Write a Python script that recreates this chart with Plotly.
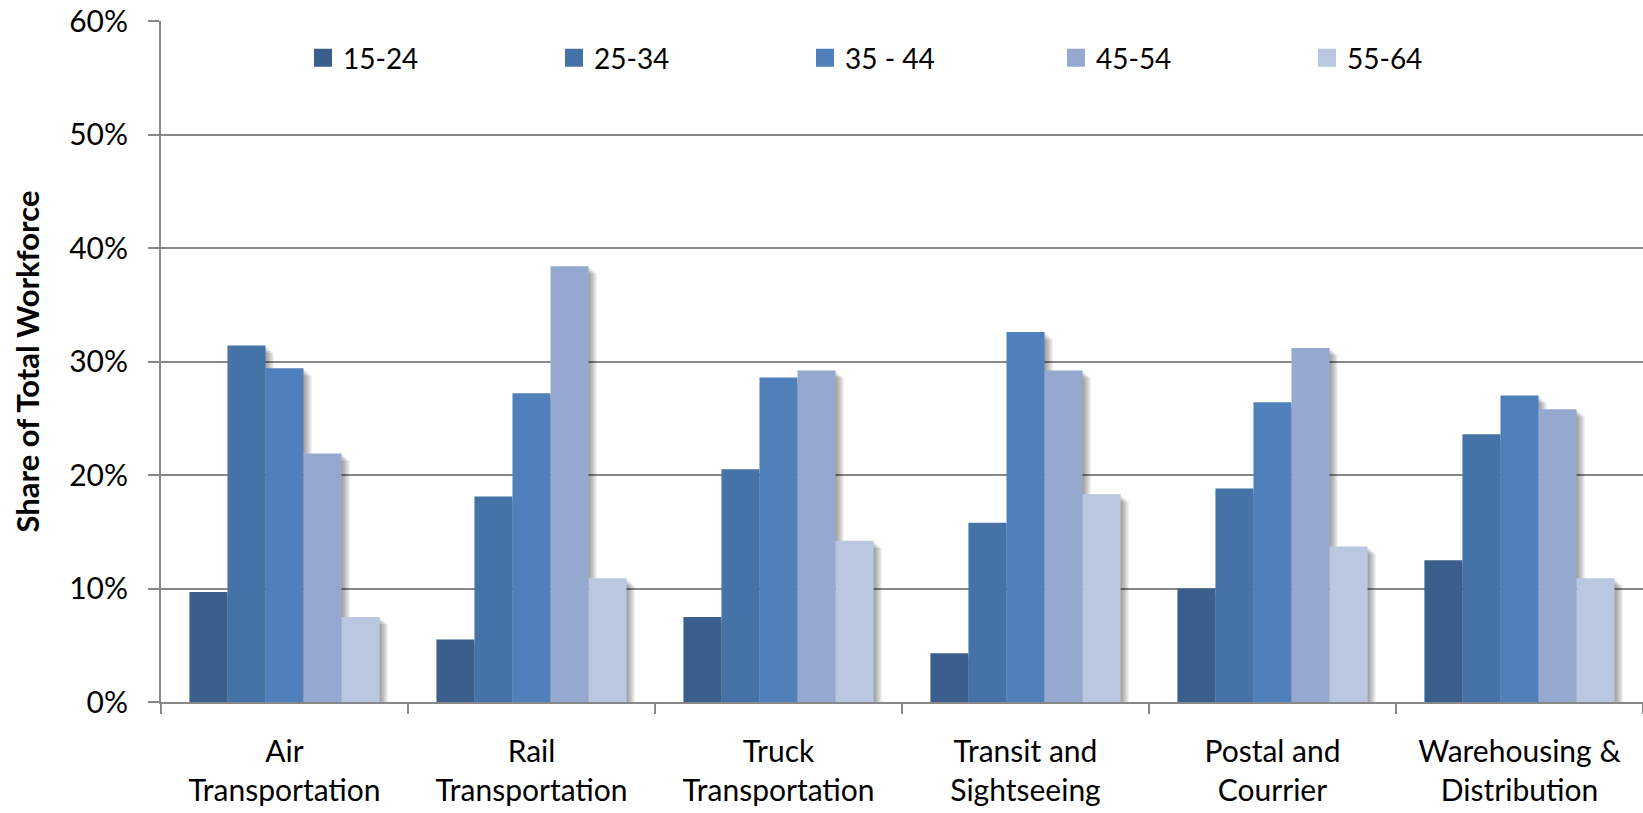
import plotly.graph_objects as go

# Industry groups (x categories)
categories = [
    "Air<br>Transportation",
    "Rail<br>Transportation",
    "Truck<br>Transportation",
    "Transit and<br>Sightseeing",
    "Postal and<br>Courrier",
    "Warehousing &<br>Distribution",
]

# Age bands and their share of the total workforce (%)
age_bands = ["15-24", "25-34", "35 - 44", "45-54", "55-64"]
share_15_24 = [9.7, 5.5, 7.5, 4.3, 10.0, 12.5]
share_25_34 = [31.4, 18.1, 20.5, 15.8, 18.8, 23.6]
share_35_44 = [29.4, 27.2, 28.6, 32.6, 26.4, 27.0]
share_45_54 = [21.9, 38.4, 29.2, 29.2, 31.2, 25.8]
share_55_64 = [7.5, 10.9, 14.2, 18.3, 13.7, 10.9]
series = [share_15_24, share_25_34, share_35_44, share_45_54, share_55_64]

colors = ["#3A5F8C", "#4572A7", "#4F80BC", "#95A9D0", "#BAC7E0"]

# Figure geometry (pixels)
W, H = 1643, 813
M_L, M_R, M_T, M_B = 161, 0, 21, 111
plot_w = W - M_L - M_R
plot_h = H - M_T - M_B
Y_MAX = 60
n_cat = len(categories)
px_per_cat = plot_w / n_cat
px_per_unit_y = plot_h / Y_MAX

bar_w = 0.154
group_start = -bar_w * len(series) / 2

fig = go.Figure()

# Soft drop shadows: several faint copies nudged right/down, drawn first
shadow_steps = [2, 4, 6, 8]
for j, vals in enumerate(series):
    for s in shadow_steps:
        fig.add_trace(go.Bar(
            x=categories, y=vals,
            base=-s * 0.9 / px_per_unit_y,
            offset=group_start + j * bar_w + s / px_per_cat,
            width=bar_w,
            marker=dict(color="rgba(0,0,0,0.10)", line=dict(width=0)),
            showlegend=False, hoverinfo="skip",
        ))

# Main bars
for j, (name, vals) in enumerate(zip(age_bands, series)):
    fig.add_trace(go.Bar(
        x=categories, y=vals, name=name,
        offset=group_start + j * bar_w,
        width=bar_w,
        marker=dict(color=colors[j], line=dict(width=0)),
        showlegend=False,
    ))

# Legend entries as square swatches
for j, name in enumerate(age_bands):
    fig.add_trace(go.Scatter(
        x=[None], y=[None], mode="markers", name=name,
        marker=dict(symbol="square", size=16, color=colors[j],
                    line=dict(color=colors[j], width=2)),
    ))

axis_gray = "#888888"
font_family = "Lato, 'Open Sans', sans-serif"

fig.update_layout(
    width=W, height=H,
    margin=dict(l=M_L, r=M_R, t=M_T, b=M_B, autoexpand=False),
    paper_bgcolor="white", plot_bgcolor="white",
    barmode="overlay",
    font=dict(family=font_family, size=28, color="black"),
    legend=dict(
        orientation="h",
        x=(303 - M_L) / plot_w, xanchor="left",
        y=(H - M_B - 58) / plot_h, yanchor="middle",
        entrywidth=206, entrywidthmode="pixels",
        bgcolor="rgba(0,0,0,0)",
        font=dict(size=28),
        itemclick=False,
    ),
    xaxis=dict(
        type="category",
        showline=True, linecolor=axis_gray, linewidth=2,
        ticks="outside", tickson="boundaries", ticklen=10,
        tickwidth=2, tickcolor=axis_gray,
        showgrid=False, zeroline=False,
        tickfont=dict(size=30),
        ticklabelstandoff=22,
        range=[-0.5, n_cat - 0.5],
    ),
    yaxis=dict(
        range=[0, Y_MAX], dtick=10, ticksuffix="%",
        showline=True, linecolor=axis_gray, linewidth=2,
        ticks="outside", ticklen=11, tickwidth=2, tickcolor=axis_gray,
        showgrid=True, gridcolor=axis_gray, gridwidth=2,
        zeroline=False,
        tickfont=dict(size=30),
        ticklabelstandoff=14,
        title=dict(text="<b>Share of Total Workforce</b>",
                   font=dict(size=31), standoff=20),
    ),
)

fig.write_html("out.html")
